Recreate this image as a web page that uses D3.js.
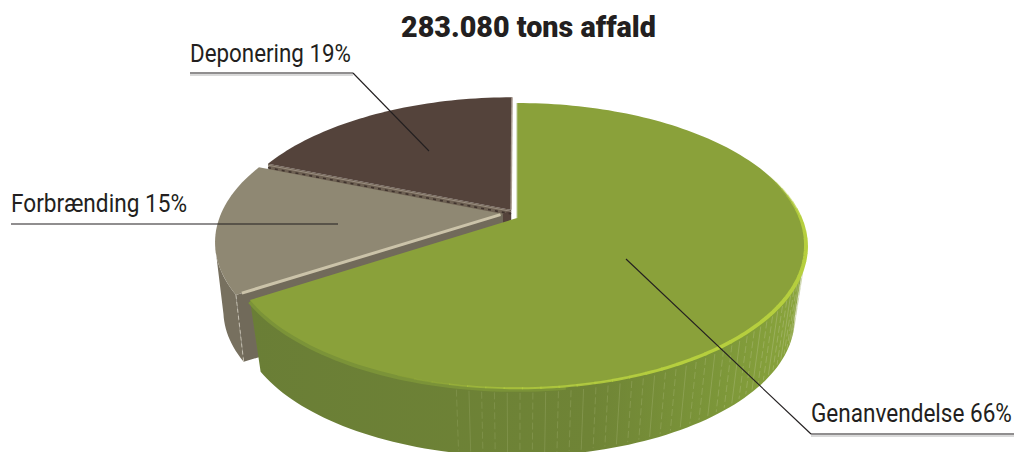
<!DOCTYPE html>
<html lang="da">
<head>
<meta charset="utf-8">
<script src="https://cdn.jsdelivr.net/npm/d3@7/dist/d3.min.js"></script>
<style>
  html, body { margin: 0; padding: 0; background: #fff; }
  svg { display: block; }
  text { font-family: "Roboto", "Liberation Sans", sans-serif; fill: #231f20; }
</style>
</head>
<body>
<svg id="chart" width="1016" height="452" viewBox="0 0 1016 452"></svg>
<script>
// Waste treatment shares
const titleText = "283.080 tons affald";
const categories = ["Genanvendelse", "Forbrænding", "Deponering"];
const shares = [66, 15, 19];

const topColors = ["#8aa13a", "#8f8873", "#54433b"];
const wallColors = ["#6f8636", "#77705f", "#6e6153"];

// Slice displacement on the pie's own plane, in units of the radius
const explodeX = [0, -0.05, -0.021];
const explodeY = [0, 0.03, 0.06];

// Perspective of the tilted disc
const persp = { cx: 517, apexY: 218, rx: 283.6, ry: 137.2, k: 0.193, depth: 75, shrink: 0.04 };

function project(x, y, z, shrink) {
  const w = 1 / (1 + persp.k * y);
  const s = 1 - shrink * z;
  return [
    persp.cx + s * persp.rx * x * w,
    persp.apexY + persp.depth * z - s * persp.ry * y * w
  ];
}

const rad = d3.scaleLinear().domain([0, 360]).range([0, 2 * Math.PI]);

// Point on a slice's rim (r = 1) or apex (r = 0) at a clockwise-from-top angle
function pt(i, a, r, z, shrink = persp.shrink) {
  return project(r * Math.sin(a) + explodeX[i], r * Math.cos(a) + explodeY[i], z, shrink);
}
function rimPoints(i, a0, a1, z, shrink = persp.shrink) {
  const n = Math.max(2, Math.ceil(Math.abs(a1 - a0) / rad(1.5)));
  return d3.range(n + 1).map(j => pt(i, a0 + (a1 - a0) * j / n, 1, z, shrink));
}

const arcs = d3.pie().sort(null).startAngle(0).endAngle(2 * Math.PI)(shares);
const svg = d3.select("#chart");
const poly = d3.line();
const closed = pts => poly(pts) + "Z";

// Condensed lettering: squeeze the text horizontally to its measured run
function fitText(sel, x, y, width) {
  const natural = sel.node().getComputedTextLength();
  sel.attr("transform", `translate(${x},${y}) scale(${width / natural},1)`);
}

const defs = svg.append("defs");
const wallGrad = defs.append("linearGradient").attr("id", "greenWall")
  .attr("gradientUnits", "userSpaceOnUse").attr("x1", 250).attr("x2", 800).attr("y1", 0).attr("y2", 0);
[[0, "#6a7e36"], [0.62, "#6f8436"], [0.85, "#7c9639"], [1, "#8aa53c"]].forEach(s =>
  wallGrad.append("stop").attr("offset", s[0]).attr("stop-color", s[1]));

const [green, gray, brown] = arcs;
const iG = 0, iF = 1, iD = 2;

// Deponering: cut face towards the next slice, hub and top
svg.append("path").attr("fill", wallColors[iD])
  .attr("d", closed([pt(iD, brown.startAngle, 0, 0), pt(iD, brown.startAngle, 1, 0),
                     pt(iD, brown.startAngle, 1, 1), pt(iD, brown.startAngle, 0, 1)]));
svg.append("path").attr("fill", "#54433b")
  .attr("d", closed([pt(iD, brown.endAngle, 0, 0), pt(iF, gray.endAngle, 0, 0),
                     pt(iF, gray.endAngle, 0, 0.5), pt(iD, brown.endAngle, 0, 0.5)]));
svg.append("path").attr("fill", topColors[iD])
  .attr("d", closed([pt(iD, brown.startAngle, 0, 0), ...rimPoints(iD, brown.startAngle, brown.endAngle, 0)]));
svg.append("line").attr("stroke", "#ad9f94").attr("stroke-width", 1.5)
  .attr("x1", pt(iD, brown.endAngle, 0, 0)[0]).attr("y1", pt(iD, brown.endAngle, 0, 0)[1])
  .attr("x2", pt(iD, brown.endAngle, 1, 0)[0]).attr("y2", pt(iD, brown.endAngle, 1, 0)[1]);
// Beaded edge along the cut face
const beadA = pt(iD, brown.startAngle, 1, 0), beadB = pt(iD, brown.startAngle, 0, 0);
svg.append("line").attr("stroke", "#3f332d").attr("stroke-width", 1.6).attr("stroke-dasharray", "3 4")
  .attr("x1", beadA[0]).attr("y1", beadA[1] + 4).attr("x2", beadB[0]).attr("y2", beadB[1] + 4);
svg.append("line").attr("stroke", "#9a8e80").attr("stroke-width", 1)
  .attr("x1", beadA[0]).attr("y1", beadA[1] + 1.5).attr("x2", beadB[0]).attr("y2", beadB[1] + 1.5);

// Forbrænding: outer wall from the widest point of the rim, cut face and top
const wallA0 = gray.startAngle, wallA1 = rad(257);
const wallZ = 0.92, wallShrink = 0.03;
svg.append("path").attr("fill", wallColors[iF])
  .attr("d", closed([...rimPoints(iF, wallA0, wallA1, 0), ...rimPoints(iF, wallA1, wallA0, wallZ, wallShrink)]));
svg.append("path").attr("fill", "#716a5a")
  .attr("d", closed([pt(iF, gray.startAngle, 0, 0), pt(iF, gray.startAngle, 1, 0),
                     pt(iF, gray.startAngle, 1, wallZ, wallShrink), pt(iF, gray.startAngle, 0, wallZ, wallShrink)]));
const seamA = pt(iF, gray.startAngle, 1, 0), seamB = pt(iF, gray.startAngle, 1, wallZ, wallShrink);
svg.append("line").attr("stroke", "#c9c4b6").attr("stroke-width", 0.9).attr("stroke-dasharray", "4 3")
  .attr("x1", seamA[0]).attr("y1", seamA[1]).attr("x2", seamB[0]).attr("y2", seamB[1]);
svg.append("path").attr("fill", topColors[iF])
  .attr("d", closed([pt(iF, gray.startAngle, 0, 0), ...rimPoints(iF, gray.startAngle, gray.endAngle, 0)]));
const lipA = pt(iF, gray.startAngle, 0.98, 0), lipB = pt(iF, gray.startAngle, 0.01, 0);
svg.append("line").attr("stroke", "#cbc3a9").attr("stroke-width", 3)
  .attr("x1", lipA[0]).attr("y1", lipA[1]).attr("x2", lipB[0]).attr("y2", lipB[1]);

// Genanvendelse: outer wall with its vertical hatching, bevel, then the top
const gWall0 = rad(101), gWall1 = green.endAngle;
svg.append("path").attr("fill", "url(#greenWall)")
  .attr("d", closed([...rimPoints(iG, gWall0, gWall1, 0), ...rimPoints(iG, gWall1, gWall0, 1)]));
const hatchAngles = d3.range(106, 192, 2.1);
const hatchFade = d3.scaleLinear().domain([106, 150, 192]).range([0.55, 0.32, 0.22]);
svg.append("g").selectAll("line").data(hatchAngles).join("line")
  .attr("stroke", "#b9c48c")
  .attr("stroke-width", 0.9)
  .attr("stroke-dasharray", (d, j) => j % 3 === 0 ? "none" : "7 3")
  .attr("opacity", d => hatchFade(d))
  .attr("x1", d => pt(iG, rad(d), 1, 0.07)[0]).attr("y1", d => pt(iG, rad(d), 1, 0.07)[1])
  .attr("x2", d => pt(iG, rad(d), 1, 0.96)[0]).attr("y2", d => pt(iG, rad(d), 1, 0.96)[1]);

// Soft bevel under the rim on the shaded side
svg.append("path").attr("fill", "none").attr("stroke", "#7b9338").attr("stroke-width", 5)
  .attr("d", poly(rimPoints(iG, rad(172), gWall1, 0.02)));

svg.append("path").attr("fill", topColors[iG])
  .attr("d", closed([pt(iG, green.startAngle, 0, 0), ...rimPoints(iG, green.startAngle, green.endAngle, 0)]));

// Highlights on the green slice: start edge and front rim
const edgeA = pt(iG, 0, 0, 0), edgeB = pt(iG, 0, 1, 0);
svg.append("line").attr("stroke", "#b6c58a").attr("stroke-width", 1)
  .attr("x1", edgeA[0]).attr("y1", edgeA[1]).attr("x2", edgeB[0]).attr("y2", edgeB[1]);
const rimFade = d3.scaleLinear().domain([68, 88, 150, 178, 200]).range([0, 1, 1, 0.75, 0]);
const rimWidth = d3.scaleLinear().domain([68, 100, 140, 185]).range([1.5, 4, 3.6, 1.6]);
svg.append("g").attr("fill", "none").attr("stroke", "#b6cf3e")
  .selectAll("path").data(d3.range(68, 200, 3)).join("path")
  .attr("opacity", d => rimFade(d))
  .attr("stroke-width", d => rimWidth(d))
  .attr("d", d => poly(rimPoints(iG, rad(d), rad(d + 3.2), 0.004)));

// Leader lines and labels; every label is underlined with a soft shadow beneath
const labelRows = [
  { i: iD, text: `${categories[iD]} ${shares[iD]}%`, x0: 190, x1: 353, base: 62, rule: 73, width: 161, tip: [429, 151] },
  { i: iF, text: `${categories[iF]} ${shares[iF]}%`, x0: 11, x1: 338, base: 212, rule: 224, width: 176, tip: null },
  { i: iG, text: `${categories[iG]} ${shares[iG]}%`, x0: 811, x1: 1014, base: 422, rule: 434, width: 201, tip: [626, 259] }
];
const leaders = svg.append("g").attr("fill", "none");
labelRows.forEach(r => {
  leaders.append("line").attr("stroke", "#d9d9d9").attr("stroke-width", 2.2)
    .attr("x1", r.x0).attr("x2", r.x1).attr("y1", r.rule + 2).attr("y2", r.rule + 2)
    .attr("display", r.tip ? null : "none");
  leaders.append("line").attr("stroke", "#231f20").attr("stroke-width", 1.1)
    .attr("x1", r.x0).attr("x2", r.x1).attr("y1", r.rule).attr("y2", r.rule);
  if (r.tip) {
    const corner = r.x1 - r.x0 > 180 ? r.x0 : r.x1;
    leaders.append("line").attr("stroke", "#231f20").attr("stroke-width", 1.1)
      .attr("x1", corner).attr("y1", r.rule).attr("x2", r.tip[0]).attr("y2", r.tip[1]);
  }
  svg.append("text").attr("font-size", 25.5).text(r.text)
    .call(fitText, r.x0, r.base, r.width);
});

svg.append("text").attr("font-size", 29).attr("font-weight", 900).text(titleText)
  .call(fitText, 401, 37, 255);
</script>
</body>
</html>
